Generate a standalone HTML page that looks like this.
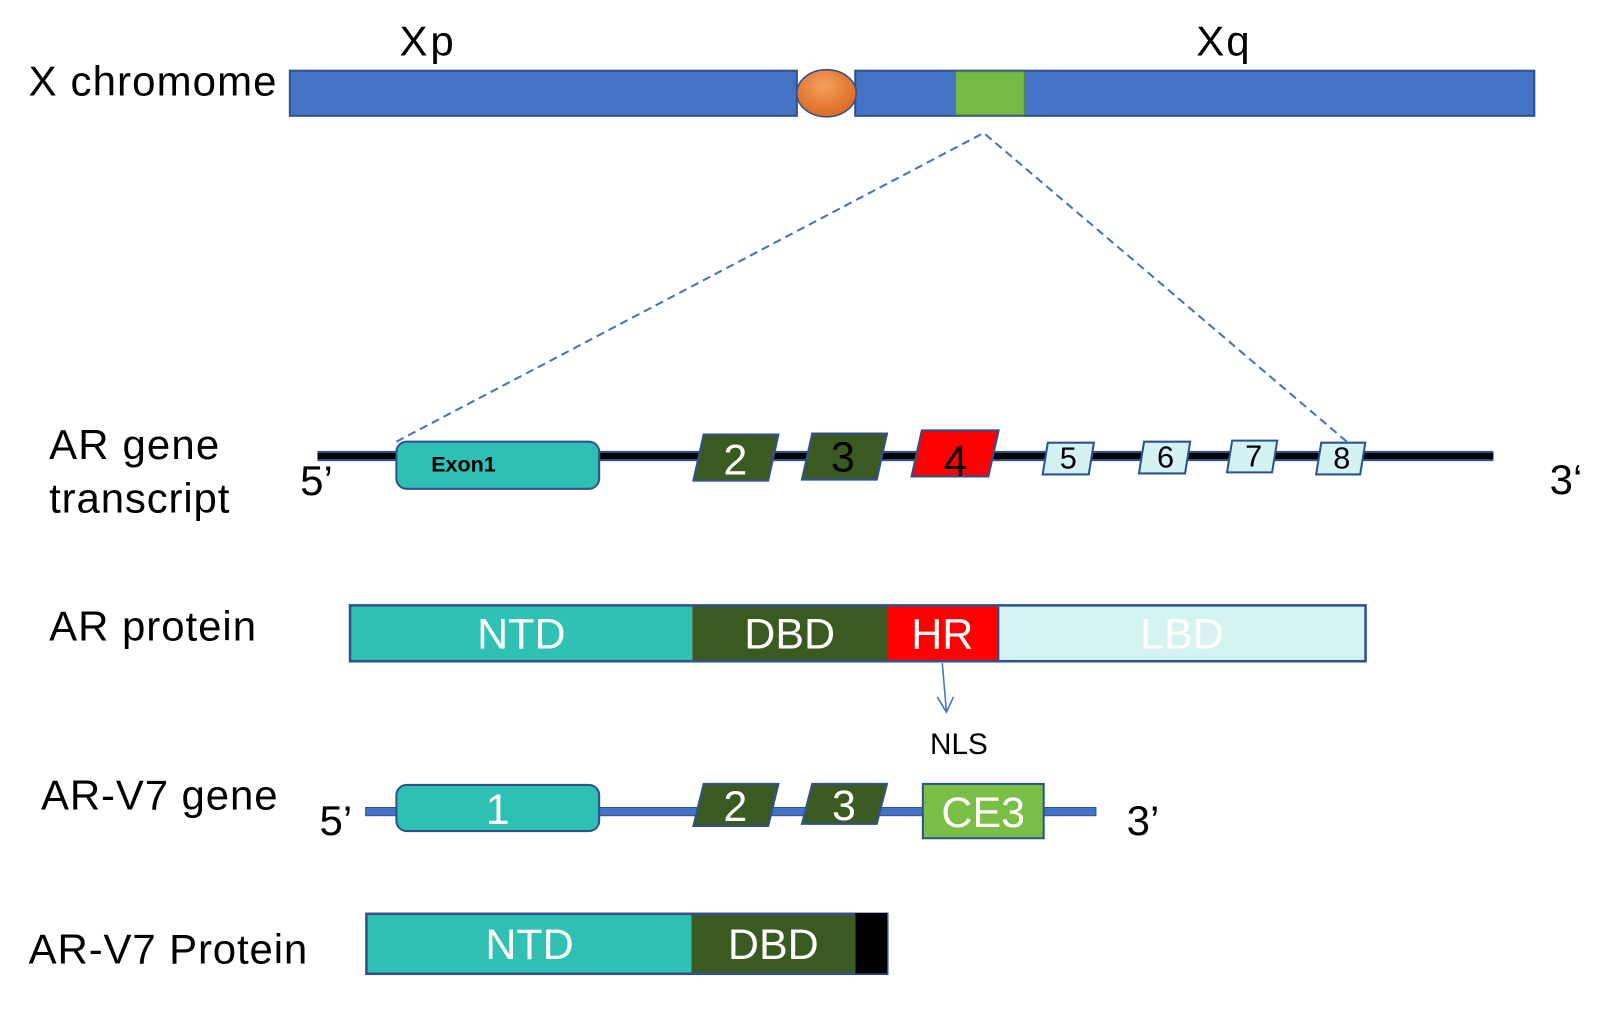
<!DOCTYPE html>
<html><head><style>html,body{margin:0;padding:0;background:#fff;width:1606px;height:1035px;overflow:hidden}svg{display:block}text{font-family:"Liberation Sans",Arial,sans-serif}</style></head><body>
<svg width="1606" height="1035" viewBox="0 0 1568 1010" preserveAspectRatio="none">
<defs><radialGradient id="og" cx="45%" cy="35%" r="70%"><stop offset="0" stop-color="#F5A060"/><stop offset="1" stop-color="#D9641A"/></radialGradient></defs>
<text x="390" y="54" font-size="41" textLength="53">Xp</text>
<text x="1168" y="54" font-size="41" textLength="52">Xq</text>
<text x="28" y="93" font-size="41" textLength="242">X chromome</text>
<rect x="283" y="69" width="495" height="44" fill="#4472C4" stroke="#2F528F" stroke-width="2"/>
<rect x="835" y="69" width="663" height="44" fill="#4472C4" stroke="#2F528F" stroke-width="2"/>
<rect x="933" y="70" width="67" height="42" fill="#76BB43" stroke="#5A8F33" stroke-width="1"/>
<ellipse cx="807" cy="91" rx="29" ry="23" fill="url(#og)" stroke="#2F528F" stroke-width="1.5"/>
<line x1="958" y1="131" x2="387" y2="431" stroke="#4472C4" stroke-width="2" stroke-dasharray="8,5"/>
<line x1="962" y1="131" x2="1315" y2="431" stroke="#4472C4" stroke-width="2" stroke-dasharray="8,5"/>
<text x="48" y="448" font-size="41" textLength="166">AR gene</text>
<text x="48" y="500" font-size="41" textLength="176">transcript</text>
<text x="293" y="483" font-size="41">5’</text>
<text x="1513" y="482" font-size="41">3‘</text>
<rect x="310" y="440" width="1148" height="10" fill="#2F528F"/>
<rect x="310" y="442" width="1148" height="6" fill="#000"/>
<rect x="387" y="431" width="198" height="46" rx="10" fill="#2EC0B4" stroke="#2F528F" stroke-width="2"/>
<text x="421" y="460" font-size="21" font-weight="bold">Exon1</text>
<g stroke="#2F528F" stroke-width="2">
<polygon points="687,424 760,424 750,469 677,469" fill="#3B5A22"/>
<polygon points="793,423 866,423 856,468 783,468" fill="#3B5A22"/>
<polygon points="900,420 975,420 965,465 890,465" fill="#FF0000"/>
<polygon points="1023,432 1068,432 1063,463 1018,463" fill="#D5F2F2"/>
<polygon points="1117,431 1162,431 1157,462 1112,462" fill="#D5F2F2"/>
<polygon points="1203,430 1247,430 1242,461 1198,461" fill="#D5F2F2"/>
<polygon points="1290,432 1333,432 1328,463 1285,463" fill="#D5F2F2"/>
</g>
<text x="718" y="463" font-size="42" fill="#fff" text-anchor="middle">2</text>
<text x="823" y="460" font-size="42" fill="#000" text-anchor="middle">3</text>
<text x="933" y="464" font-size="42" fill="#000" text-anchor="middle">4</text>
<text x="1043" y="457" font-size="30" text-anchor="middle">5</text>
<text x="1138" y="456" font-size="30" text-anchor="middle">6</text>
<text x="1224" y="455" font-size="30" text-anchor="middle">7</text>
<text x="1310" y="457" font-size="30" text-anchor="middle">8</text>
<text x="48" y="625" font-size="41" textLength="202">AR protein</text>
<rect x="342" y="591" width="991" height="54" fill="none" stroke="#2F528F" stroke-width="3"/>
<rect x="343" y="592" width="333" height="52" fill="#31C0B4"/>
<rect x="676" y="592" width="190" height="52" fill="#3B5A22"/>
<rect x="866" y="592" width="109" height="52" fill="#FF0000"/>
<rect x="975" y="592" width="357" height="52" fill="#D5F3F0"/>
<line x1="975" y1="592" x2="975" y2="644" stroke="#2F528F" stroke-width="1.5"/>
<g font-size="42" fill="#fff" text-anchor="middle">
<text x="509" y="633">NTD</text><text x="771" y="633">DBD</text><text x="920" y="633">HR</text><text x="1154" y="633">LBD</text></g>
<line x1="920" y1="647" x2="924" y2="694" stroke="#4472C4" stroke-width="1.5"/>
<polyline points="915,680 924,695 931,680" fill="none" stroke="#4472C4" stroke-width="1.5"/>
<text x="908" y="736" font-size="29">NLS</text>
<text x="40" y="790" font-size="41" textLength="231">AR-V7 gene</text>
<text x="312" y="815" font-size="41">5’</text>
<text x="1100" y="815" font-size="41">3’</text>
<rect x="357" y="788" width="713" height="8" fill="#4472C4" stroke="#2F528F" stroke-width="1"/>
<rect x="387" y="766" width="198" height="45" rx="10" fill="#2EC0B4" stroke="#2F528F" stroke-width="2"/>
<text x="486" y="804" font-size="42" fill="#fff" text-anchor="middle">1</text>
<g stroke="#2F528F" stroke-width="2">
<polygon points="687,765 760,765 750,806 677,806" fill="#3B5A22"/>
<polygon points="793,765 866,765 856,804 783,804" fill="#3B5A22"/>
<rect x="901" y="765" width="118" height="53" fill="#7BBE45"/>
</g>
<text x="718" y="801" font-size="42" fill="#fff" text-anchor="middle">2</text>
<text x="824" y="800" font-size="42" fill="#fff" text-anchor="middle">3</text>
<text x="960" y="807" font-size="42" fill="#fff" text-anchor="middle">CE3</text>
<text x="28" y="940" font-size="41" textLength="272">AR-V7 Protein</text>
<rect x="358" y="892" width="508" height="58" fill="none" stroke="#2F528F" stroke-width="3"/>
<rect x="359" y="893" width="316" height="56" fill="#31C0B4"/>
<rect x="675" y="893" width="160" height="56" fill="#3B5A22"/>
<rect x="835" y="891" width="31" height="59" fill="#000"/>
<text x="517" y="936" font-size="42" fill="#fff" text-anchor="middle">NTD</text>
<text x="755" y="936" font-size="42" fill="#fff" text-anchor="middle">DBD</text>
</svg>
</body></html>
